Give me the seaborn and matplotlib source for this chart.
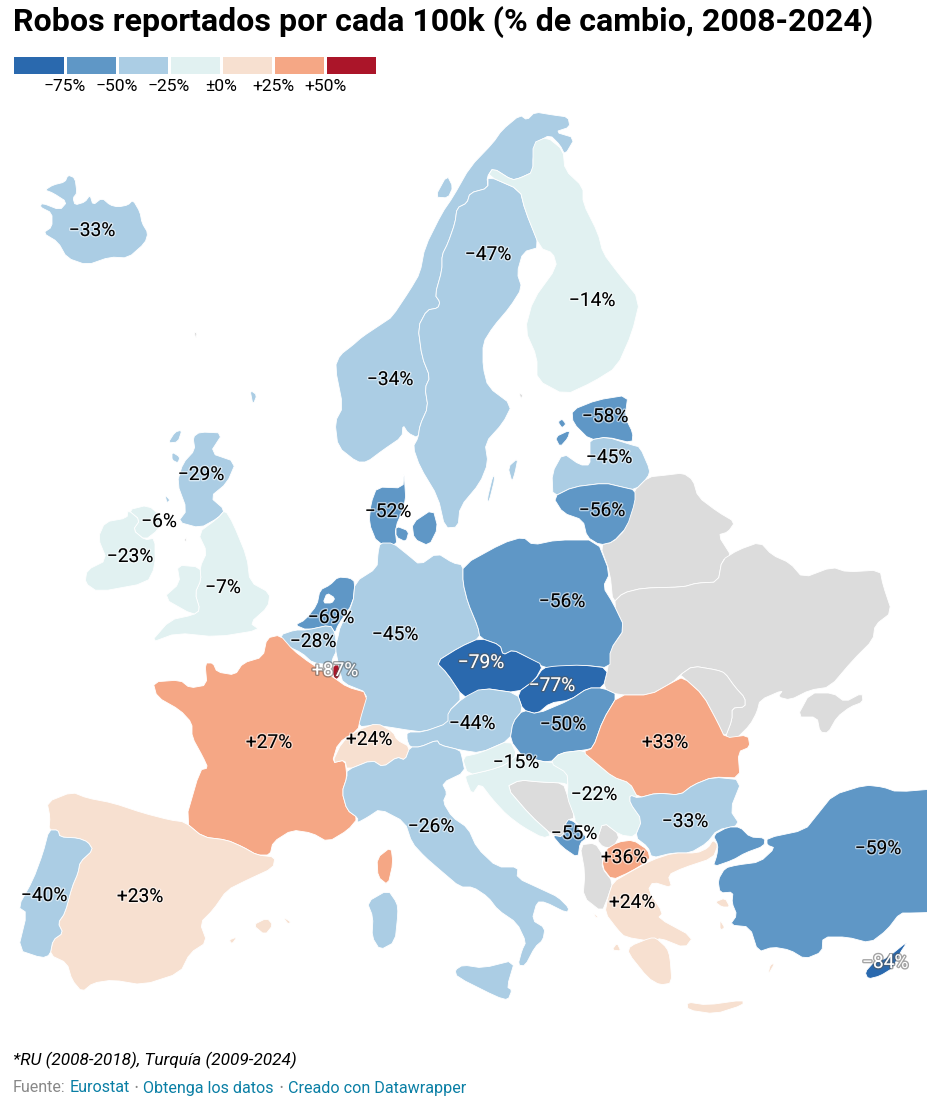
#!/usr/bin/env python3
import matplotlib
matplotlib.use('Agg')
import matplotlib.pyplot as plt
import matplotlib.patheffects as pe
from matplotlib.colors import ListedColormap
import numpy as np
import pandas as pd
import seaborn as sns

# ---------------- data ----------------
TITLE = 'Robos reportados por cada 100k (% de cambio, 2008-2024)'
NOTE = '*RU (2008-2018), Turquía (2009-2024)'

CLASS_EDGES = [-75, -50, -25, 0, 25, 50]
CLASS_COLORS = ['#2a69ae', '#5f97c6', '#abcde4', '#e1f1f1', '#f7e0d0', '#f5a785', '#ab1529']
LEGEND_LABELS = ['−75%', '−50%', '−25%', '±0%', '+25%', '+50%']
NO_DATA = '#dcdcdc'

COUNTRIES = ['IS', 'NO', 'SE', 'FI', 'EE', 'LV', 'LT', 'DK', 'SCT', 'NIR', 'IE', 'ENG', 'NL', 'BE', 'LU',
             'DE', 'PL', 'CZ', 'SK', 'AT', 'HU', 'FR', 'CH', 'ES', 'PT', 'IT', 'HR', 'RS', 'RO', 'BG',
             'ME', 'MK', 'GR', 'TR', 'CY']
CHANGE = [-33, -34, -47, -14, -58, -45, -56, -52, -29, -6, -23, -7, -69, -28, 87,
          -45, -56, -79, -77, -44, -50, 27, 24, 23, -40, -26, -15, -22, 33, -33,
          -55, 36, 24, -59, -84]
LABEL_X = [92, 390, 488, 592, 605, 609, 602, 388, 201, 159, 130, 223, 331, 313, 335,
           395, 562, 481, 552, 472, 563, 269, 369, 140, 44, 431, 516, 594, 665, 685,
           574, 624, 632, 878, 885]
LABEL_Y = [231, 380, 255, 301, 417, 458, 511, 512, 475, 522, 557, 588, 618, 642, 671,
           635, 602, 663, 686, 724, 725, 743, 740, 897, 896, 827, 763, 795, 743, 822,
           834, 858, 903, 849, 963]

# outlines, in picture pixels
IS = [(45,190),(53,185),(65,182),(68,175),(75,178),(77,193),(73,198),(75,205),(85,202),(90,195),(93,205),
      (102,198),(110,205),(118,207),(128,205),(133,200),(140,212),(142,223),(148,233),(145,243),(128,258),
      (110,257),(87,265),(67,258),(58,242),(43,233),(52,227),(52,213),(40,207),(42,203),(60,210),(67,202),(53,193)]
NO = [(357,462),(338,447),(335,422),(343,407),(335,367),(340,355),(353,345),(362,337),(383,323),(392,317),
      (410,290),(420,273),(425,247),(442,213),(453,197),(470,167),(493,143),(502,130),(520,115),(527,120),
      (535,112),(553,115),(568,117),(570,127),(555,132),(575,138),(565,155),(560,145),(550,135),(537,142),
      (533,157),(533,172),(520,178),(512,180),(493,168),(487,177),(488,188),(470,193),(467,203),(457,208),
      (455,223),(448,243),(442,255),(442,270),(435,295),(440,302),(438,308),(427,310),(418,327),(422,357),
      (430,377),(425,388),(428,407),(420,425),(418,438),(408,433),(403,425),(402,437),(383,450),(367,462)]
NO_ISLES = [(435,197),(447,175),(453,187),(448,198)]
SE = [(488,176),(520,190),(525,210),(540,247),(523,252),(517,273),(522,288),(510,307),(493,327),(483,343),
      (483,367),(488,387),(512,405),(503,423),(485,443),(488,463),(480,483),(460,507),(458,527),(445,528),
      (438,497),(420,467),(413,447),(418,438),(420,425),(428,407),(425,388),(430,377),(422,357),(418,327),
      (427,310),(438,308),(440,302),(435,295),(442,270),(442,255),(448,243),(455,223),(457,208),(467,203),
      (470,193),(488,188)]
GOTLAND = [(508,467),(518,458),(515,473),(512,482)]
OLAND = [(493,475),(495,478),(489,502),(487,500)]
FI = [(493,168),(512,180),(520,178),(533,172),(533,143),(547,137),(563,150),(565,170),(583,187),(583,203),
      (598,233),(603,253),(618,273),(640,300),(632,333),(617,367),(593,382),(565,395),(537,380),(537,357),
      (525,330),(533,300),(557,267),(553,253),(540,248),(525,210),(520,190),(488,176)]
EE = [(572,410),(597,400),(628,395),(625,417),(633,433),(632,443),(607,437),(590,440),(573,423)]
SAAREMAA = [(555,437),(570,430),(568,438),(560,447)]
HIIUMAA = [(558,422),(562,419),(566,424),(562,428)]
LV = [(590,440),(607,437),(632,445),(640,447),(650,470),(648,477),(635,490),(622,487),(605,483),(573,487),
      (553,497),(552,473),(563,453),(580,465),(590,465),(590,450)]
LT = [(553,497),(573,487),(605,483),(622,487),(635,490),(635,502),(627,527),(613,542),(600,545),(587,537),
      (583,520),(563,513)]
DK = [(404,471),(403,488),(377,487),(371,503),(369,523),(377,543),(397,546),(395,528),(406,503)]
ZEALAND = [(412,523),(433,509),(438,528),(429,546),(414,539)]
FUNEN = [(396,526),(409,531),(406,542),(396,537)]
SCT = [(200,432),(223,433),(210,453),(236,462),(227,483),(210,497),(225,510),(218,518),(200,528),(178,522),
       (187,510),(177,483),(183,463),(195,450),(193,437)]
LEWIS = [(175,432),(182,430),(178,442),(168,443)]
MULL = [(172,452),(180,457),(178,463),(172,460)]
ISLAY = [(165,495),(170,500),(167,503)]
SHETLAND = [(250,390),(257,395),(253,405)]
ENG = [(225,510),(233,523),(247,557),(250,582),(270,593),(268,607),(250,623),(260,630),(217,637),(177,633),
       (150,643),(170,620),(193,615),(200,610),(195,593),(201,580),(200,567),(207,552),(198,533),(218,518)]
WAL = [(193,615),(163,598),(180,583),(177,565),(200,567),(201,580),(195,593),(200,610)]
NIR = [(128,510),(148,505),(163,518),(158,530),(145,540),(133,530),(140,520)]
IE = [(105,522),(127,518),(128,510),(140,520),(133,530),(145,540),(155,538),(155,567),(147,583),(98,592),
      (85,583),(87,570),(107,560),(98,538)]
NL = [(355,582),(350,578),(338,577),(330,585),(320,590),(317,605),(305,620),(295,625),(307,630),(330,625),
      (335,633),(338,625),(353,603)]
IJSSELMEER = [(327,593),(335,598),(332,603),(323,603)]
BE = [(280,635),(295,630),(307,630),(330,625),(335,633),(337,650),(332,660),(333,665),(313,663),(302,653),(285,645)]
LU = [(333,665),(342,665),(338,680),(333,677)]
DE = [(355,582),(377,568),(378,553),(380,543),(393,543),(408,555),(420,565),(437,553),(453,563),(463,565),
      (463,583),(468,603),(478,627),(480,638),(460,647),(436,662),(447,673),(463,697),(448,712),(452,722),
      (423,732),(407,730),(395,728),(375,725),(358,727),(360,710),(368,693),(343,683),(340,672),(335,647),
      (338,637),(340,627),(353,603)]
PL = [(463,565),(503,543),(523,537),(533,545),(557,540),(597,540),(610,573),(603,587),(613,603),(625,628),
      (610,650),(610,668),(582,665),(557,667),(545,668),(527,657),(513,650),(503,655),(500,645),(480,638),
      (478,627),(468,603),(463,583)]
CZ = [(436,662),(460,647),(480,638),(500,645),(503,655),(513,650),(527,657),(543,665),(535,680),(517,693),
      (483,688),(477,698),(463,697),(447,673)]
SK = [(543,668),(555,666),(582,665),(608,668),(603,688),(588,688),(570,700),(550,703),(537,714),(523,710),
      (517,693),(535,680)]
AT = [(407,732),(423,732),(448,723),(448,712),(463,698),(482,688),(517,693),(523,710),(513,722),(510,740),
      (480,753),(460,750),(440,745),(437,740),(420,747),(410,747),(407,740)]
HU = [(523,710),(537,714),(570,700),(588,688),(603,688),(618,695),(603,720),(593,748),(585,750),(560,753),
      (550,763),(523,757),(510,740),(513,722)]
FR = [(267,638),(280,635),(293,650),(310,663),(333,677),(347,687),(368,693),(360,720),(358,730),(338,743),
      (332,763),(345,760),(347,777),(342,792),(347,810),(358,818),(348,830),(328,842),(312,833),(292,830),
      (273,842),(270,855),(257,855),(243,847),(227,840),(203,837),(185,822),(200,770),(208,768),(203,757),
      (192,737),(192,723),(180,710),(157,697),(153,682),(180,680),(190,688),(207,685),(205,663),(213,663),
      (217,672),(235,675),(243,663),(263,657)]
CORSICA = [(391,847),(393,863),(388,885),(378,877),(377,858)]
CH = [(342,742),(358,730),(377,723),(393,732),(397,740),(410,747),(405,760),(397,757),(383,767),(372,760),
      (347,770),(345,760),(332,763)]
ES = [(47,802),(72,792),(87,798),(113,803),(143,813),(170,820),(185,822),(203,837),(227,840),(243,847),
      (257,855),(275,857),(273,868),(247,880),(227,890),(213,910),(200,923),(207,942),(190,953),(180,973),
      (143,985),(113,980),(93,983),(82,992),(72,980),(67,963),(50,955),(53,940),(63,933),(58,923),(65,913),
      (72,887),(78,873),(80,862),(93,850),(88,842),(78,838),(60,837),(58,830),(49,830),(50,817)]
MALLORCA = [(253,925),(267,918),(273,925),(265,935)]
MENORCA = [(283,917),(291,922),(288,924)]
IBIZA = [(229,940),(237,937),(232,944)]
PT = [(49,830),(58,830),(60,837),(78,838),(88,842),(93,850),(80,862),(78,873),(72,887),(65,913),(58,923),
      (63,933),(53,940),(50,955),(42,958),(18,950),(27,913),(18,907),(33,880),(43,853)]
IT = [(347,770),(372,760),(383,767),(397,757),(405,760),(410,747),(420,747),(437,740),(440,745),(460,750),
      (462,757),(465,772),(442,783),(447,793),(443,802),(452,817),(468,828),(477,848),(497,867),(518,867),
      (517,878),(543,890),(558,897),(569,908),(567,913),(545,902),(537,902),(532,920),(545,928),(543,940),
      (535,947),(525,966),(518,965),(522,950),(526,942),(517,923),(498,910),(488,897),(473,887),(460,887),
      (440,870),(425,857),(412,843),(405,822),(380,809),(368,817),(357,823),(358,818),(347,810),(342,792),(347,777)]
SICILY = [(455,970),(463,965),(483,968),(515,960),(507,987),(512,990),(508,1000),(497,997),(457,977)]
SARDINIA = [(388,890),(397,903),(398,913),(395,942),(380,950),(372,937),(373,917),(367,902)]
SI = [(462,757),(480,753),(510,740),(517,755),(505,765),(490,770),(468,775)]
HR = [(468,775),(490,770),(505,765),(517,755),(523,757),(550,763),(560,760),(567,773),(568,785),(563,783),
      (540,782),(520,780),(506,787),(530,815),(552,835),(543,838),(523,827),(507,815),(493,800),(480,783),
      (472,795),(465,777)]
RS = [(550,763),(560,753),(585,750),(595,762),(613,777),(630,783),(638,798),(630,795),(630,803),
      (642,820),(635,837),(620,835),(603,822),(597,840),(575,822),(575,818),(567,797),(568,785),(567,773)]
XK = [(603,822),(620,835),(613,848),(603,847),(597,840)]
BA = [(506,787),(520,780),(540,782),(563,783),(568,797),(575,818),(567,820),(563,837),(552,835),(530,815)]
ME = [(567,819),(575,822),(580,830),(587,838),(580,843),(578,858),(562,847),(552,835),(563,837)]
AL = [(580,845),(595,843),(603,855),(602,868),(613,882),(608,897),(602,912),(583,897),(585,873)]
MK = [(605,850),(618,842),(633,840),(648,850),(650,860),(630,872),(612,880),(602,867)]
RO = [(618,695),(650,695),(673,682),(683,677),(703,695),(718,723),(725,738),(748,735),(750,747),(738,752),
      (740,778),(713,777),(693,785),(680,795),(657,793),(638,798),(630,783),(613,777),(595,762),(583,752),(593,748),(603,720)]
BG = [(638,798),(657,793),(680,795),(693,785),(713,777),(742,780),(730,810),(740,825),(717,830),(707,843),
      (690,853),(672,853),(652,858),(648,847),(635,837),(642,820),(630,803),(630,795)]
GR = [(613,882),(630,872),(652,860),(673,853),(697,853),(708,848),(713,840),(718,845),(713,858),(683,868),
      (668,875),(672,888),(653,882),(648,890),(663,913),(658,918),(693,937),(685,948),(660,938),(655,942),
      (625,937),(618,930),(605,913),(608,897)]
PELOPONNESE = [(650,938),(656,938),(667,948),(670,957),(672,983),(660,985),(648,978),(628,953),(630,946)]
CRETE = [(687,1002),(707,1005),(743,1000),(743,1005),(715,1014),(688,1010)]
LESBOS = [(715,902),(725,898),(730,907),(722,907)]
CHIOS = [(720,920),(725,928),(720,930)]
RHODES = [(775,963),(768,975),(770,965)]
CORFU = [(593,912),(598,917),(596,918)]
KEFALONIA = [(612,950),(617,943),(621,951)]
THRACE = [(713,835),(728,827),(740,827),(750,837),(765,838),(764,846),(745,853),(733,860),(713,867),(717,855),(718,845)]
TR = [(767,838),(805,830),(817,815),(833,795),(865,785),(883,787),(897,792),(945,788),(945,912),(913,913),
      (900,913),(887,930),(870,943),(847,937),(823,937),(822,952),(805,959),(790,950),(773,947),(758,952),
      (750,927),(730,925),(737,915),(732,903),(733,892),(720,893),(718,880),(725,868),(737,865),(760,862),
      (775,848),(767,845)]
CY = [(908,941),(900,953),(893,968),(880,976),(868,979),(865,972),(874,962),(887,958)]
BY = [(633,492),(648,477),(667,475),(683,473),(693,480),(698,497),(718,512),(735,522),(728,532),(718,535),
      (732,557),(722,560),(718,582),(697,583),(683,587),(643,588),(623,593),(613,603),(610,573),(600,545),
      (613,542),(625,530),(632,507)]
UA = [(613,603),(623,593),(643,588),(683,587),(697,583),(718,582),(722,560),(738,550),(760,542),(772,555),
      (790,563),(803,578),(832,567),(847,572),(880,570),(883,585),(892,612),(875,625),(873,640),(853,660),
      (830,687),(810,690),(790,700),(778,697),(783,690),(760,700),(757,712),(750,725),(735,740),(725,738),
      (732,720),(732,708),(745,707),(745,698),(735,687),(725,673),(717,670),(693,666),(680,675),(673,682),
      (650,695),(618,695),(603,688),(608,668),(610,650),(625,628)]
MD = [(680,675),(693,666),(717,670),(725,673),(735,687),(745,698),(745,707),(732,708),(732,720),(725,738),
      (718,723),(703,695),(683,677)]
CRIMEA = [(810,693),(833,693),(845,702),(862,693),(863,702),(850,707),(837,717),(828,733),(820,732),(817,717),(797,717)]
FAROE = [(194,332),(197,333),(196,339)]
ALAND = [(519,393),(523,395),(521,399)]
MAN = [(184,540),(187,537),(186,542)]

# which outlines belong to which row of the table
SHAPES = {'IS': [IS], 'NO': [NO, NO_ISLES], 'SE': [SE, GOTLAND, OLAND], 'FI': [FI], 'EE': [EE, SAAREMAA, HIIUMAA],
          'LV': [LV], 'LT': [LT], 'DK': [DK, ZEALAND, FUNEN], 'SCT': [SCT, LEWIS, MULL, ISLAY, SHETLAND],
          'NIR': [NIR], 'IE': [IE], 'ENG': [ENG, WAL], 'NL': [NL], 'BE': [BE], 'LU': [LU], 'DE': [DE], 'PL': [PL],
          'CZ': [CZ], 'SK': [SK], 'AT': [AT], 'HU': [HU], 'FR': [FR, CORSICA], 'CH': [CH],
          'ES': [ES, MALLORCA, MENORCA, IBIZA], 'PT': [PT], 'IT': [IT, SICILY, SARDINIA], 'HR': [HR, SI], 'RS': [RS],
          'RO': [RO], 'BG': [BG], 'ME': [ME], 'MK': [MK],
          'GR': [GR, PELOPONNESE, CRETE, LESBOS, CHIOS, RHODES, CORFU, KEFALONIA], 'TR': [TR, THRACE], 'CY': [CY]}
GREY_SHAPES = [BY, UA, MD, CRIMEA, BA, XK, AL, FAROE, ALAND, MAN]
DARK_LABELS = ['LU', 'CZ', 'SK', 'CY']

df = pd.DataFrame({'country': COUNTRIES, 'change': CHANGE, 'x': LABEL_X, 'y': LABEL_Y})
palette = sns.color_palette(CLASS_COLORS)
# -50 sits in the class below its edge (Hungary is the darker blue)
df['cls'] = np.digitize(df['change'], CLASS_EDGES, right=True)

# ---------------- figure ----------------
sns.set_theme(style='white')
plt.rcParams['font.family'] = ['Roboto', 'DejaVu Sans']

W, H = 928, 1104
fig = plt.figure(figsize=(W / 100, H / 100), dpi=100)
ax = fig.add_axes([0, 0, 1, 1])
ax.set_xlim(0, W)
ax.set_ylim(H, 0)
ax.axis('off')


def rounded(points):
    # one pass of corner cutting, the outlines are coarse
    pts = np.array(points, dtype=float)
    nxt = np.roll(pts, -1, axis=0)
    out = np.empty((len(pts) * 2, 2))
    out[0::2] = 0.8 * pts + 0.2 * nxt
    out[1::2] = 0.2 * pts + 0.8 * nxt
    return out


def draw(points, color, zorder=2):
    pts = rounded(points)
    ax.fill(pts[:, 0], pts[:, 1], facecolor=color, edgecolor='white', linewidth=0.6, zorder=zorder)


for shape in GREY_SHAPES:
    draw(shape, NO_DATA)
for _, row in df.iterrows():
    for shape in SHAPES[row['country']]:
        draw(shape, palette[row['cls']])
draw(IJSSELMEER, 'white', zorder=3)

for _, row in df.iterrows():
    txt = f"{'+' if row['change'] > 0 else '−'}{abs(row['change'])}%"
    dark = row['country'] in DARK_LABELS
    ax.text(row['x'], row['y'], txt, ha='center', va='center', fontsize=13.8, zorder=5,
            color='white' if dark else 'black',
            path_effects=[pe.withStroke(linewidth=2,
                                        foreground='#55555588' if dark else '#ffffff88')])

# title and footer
ax.text(13, 22, TITLE, fontsize=23.1, fontweight='bold', color='black', ha='left', va='center')
ax.text(13, 1060, NOTE, fontsize=12.4, fontstyle='italic', color='black', ha='left', va='center')
ax.text(13, 1088, 'Fuente:', fontsize=11.6, color='#888888', ha='left', va='center')
ax.text(70, 1088, 'Eurostat', fontsize=11.6, color='#0a7fa5', ha='left', va='center')
ax.text(134, 1088, '•', fontsize=7, color='#888888', ha='left', va='center')
ax.text(143, 1088, 'Obtenga los datos', fontsize=11.6, color='#0a7fa5', ha='left', va='center')
ax.text(279, 1088, '•', fontsize=7, color='#888888', ha='left', va='center')
ax.text(288, 1088, 'Creado con Datawrapper', fontsize=11.6, color='#0a7fa5', ha='left', va='center')

# legend strip
lax = fig.add_axes([12.5 / W, 1 - 74.5 / H, 365 / W, 20 / H])
sns.heatmap(np.arange(len(CLASS_COLORS)).reshape(1, -1), ax=lax, cmap=ListedColormap(CLASS_COLORS),
            cbar=False, linewidths=0.8, linecolor='white', square=False)
lax.set_yticks([])
lax.set_xticks(np.arange(1, len(CLASS_COLORS)))
lax.set_xticklabels(LEGEND_LABELS, rotation=0, fontsize=12.6, color='black')
lax.tick_params(axis='x', length=0, pad=3)

fig.savefig('out.png', dpi=100)
